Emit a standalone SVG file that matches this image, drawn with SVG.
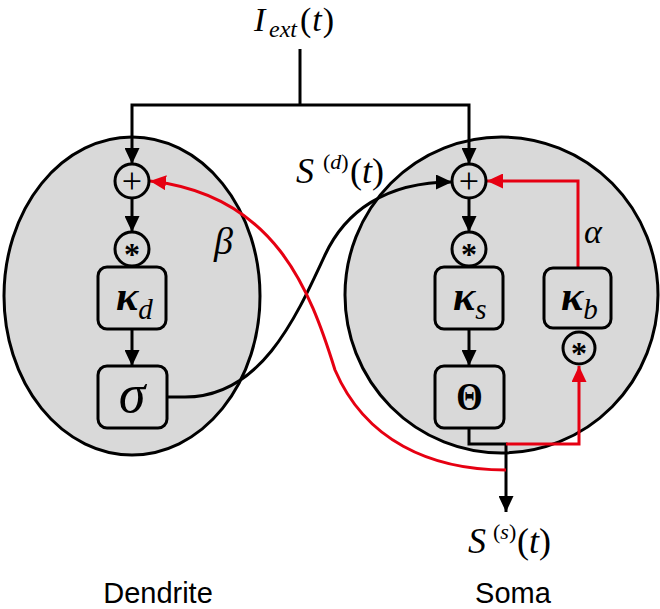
<svg xmlns="http://www.w3.org/2000/svg" width="660" height="609" viewBox="0 0 660 609">
<defs>
<style>
.ln{fill:none;stroke:#000;stroke-width:3;stroke-linejoin:miter}
.rd{fill:none;stroke:#e60012;stroke-width:3;stroke-linejoin:miter}
.cell{fill:#d9d9d9;stroke:#000;stroke-width:3}
.box{fill:#d9d9d9;stroke:#000;stroke-width:3}
.m{font-family:"Liberation Serif","Times New Roman",serif;fill:#000}
.it{font-style:italic}
.op{font-family:"Liberation Serif",serif;font-size:36px;text-anchor:middle}
.ast{font-family:"Liberation Serif",serif;font-size:32px;font-weight:bold;text-anchor:middle}
.kap{font-family:"Liberation Serif",serif;font-size:42px;font-style:italic;font-weight:bold}
.sub{font-family:"Liberation Serif",serif;font-size:29px;font-style:italic;font-weight:normal}
.lbl{font-family:"Liberation Sans",Arial,sans-serif;font-size:29px;text-anchor:middle;fill:#000}
</style>
<marker id="ab" markerUnits="userSpaceOnUse" viewBox="0 0 16 15" markerWidth="16" markerHeight="15" refX="16" refY="7.5" orient="auto"><path d="M0,0 L16,7.5 L0,15 Z" fill="#000"/></marker>
<marker id="ar" markerUnits="userSpaceOnUse" viewBox="0 0 16 15" markerWidth="16" markerHeight="15" refX="16" refY="7.5" orient="auto"><path d="M0,0 L16,7.5 L0,15 Z" fill="#e60012"/></marker>
</defs>

<g id="dendrite">
<ellipse class="cell" cx="132" cy="296" rx="128" ry="159"/>
<text class="lbl" x="158" y="603">Dendrite</text>
</g>
<g id="soma">
<ellipse class="cell" cx="501.5" cy="295" rx="156.5" ry="158"/>
<text class="lbl" x="513" y="603">Soma</text>
</g>

<g id="connectors">
<path class="ln" d="M300,49 V105"/>
<path class="ln" d="M300,105 H132 V164" marker-end="url(#ab)"/>
<path class="ln" d="M300,105 H469 V164" marker-end="url(#ab)"/>
<path class="ln" d="M132,198 V232" marker-end="url(#ab)"/>
<path class="ln" d="M132,329 V366" marker-end="url(#ab)"/>
<path class="ln" d="M469,198 V232" marker-end="url(#ab)"/>
<path class="ln" d="M469,329 V366" marker-end="url(#ab)"/>
<path class="ln" d="M167,397 H185 C260,397 295,320 325,255 C345,212 385,182 452,182" marker-end="url(#ab)"/>
<path class="ln" d="M469,428 V444 H506 V512" marker-end="url(#ab)"/>
<path class="rd" d="M506,444 H579 V366" marker-end="url(#ar)"/>
<path class="rd" d="M578,268 V181 H487" marker-end="url(#ar)"/>
<path class="rd" d="M506,470 C430,470 365,440 335,370 C310,290 275,195 150,181" marker-end="url(#ar)"/>
</g>

<g id="sum-d">
<circle class="box" cx="132" cy="181" r="17"/>
<text class="op m" x="132" y="193">+</text>
</g>
<g id="conv-d">
<circle class="box" cx="132" cy="249" r="17"/>
<text class="ast m" x="132" y="265">*</text>
</g>
<g id="kappa-d">
<rect class="box" x="98" y="267" width="68" height="62" rx="9"/>
<text class="kap" x="116" y="310">κ<tspan class="sub" dx="0" dy="9">d</tspan></text>
</g>
<g id="sigma">
<rect class="box" x="98" y="366" width="69" height="62" rx="9"/>
<text class="m it" x="132" y="412" font-size="54" text-anchor="middle">σ</text>
</g>
<text class="m it" x="214" y="254" font-size="38">β</text>

<g id="sum-s">
<circle class="box" cx="469" cy="181" r="17"/>
<text class="op m" x="469" y="193">+</text>
</g>
<g id="conv-s">
<circle class="box" cx="469" cy="249" r="17"/>
<text class="ast m" x="469" y="265">*</text>
</g>
<g id="kappa-s">
<rect class="box" x="435" y="267" width="68" height="62" rx="9"/>
<text class="kap" x="453" y="310">κ<tspan class="sub" dx="0" dy="9">s</tspan></text>
</g>
<g id="theta">
<rect class="box" x="435" y="366" width="69" height="62" rx="9"/>
<text class="m" transform="translate(469.5,410) scale(0.85,1)" x="0" y="0" font-size="40" font-weight="bold" text-anchor="middle">Θ</text>
</g>
<g id="kappa-b">
<rect class="box" x="544" y="268" width="67" height="60" rx="9"/>
<text class="kap" x="561" y="310">κ<tspan class="sub" dx="0" dy="9">b</tspan></text>
</g>
<g id="conv-b">
<circle class="box" cx="579" cy="348" r="16"/>
<text class="ast m" x="579" y="364">*</text>
</g>
<text class="m it" x="584" y="243" font-size="34">α</text>

<g id="labels">
<text class="m" y="31" font-size="34"><tspan class="it" x="254">I</tspan><tspan class="it" x="269" y="37" font-size="24">ext</tspan><tspan x="300" y="31" letter-spacing="1">(<tspan class="it">t</tspan>)</tspan></text>
<text class="m" y="183" font-size="36"><tspan class="it" x="296">S</tspan><tspan x="323" y="169" font-size="22">(<tspan class="it">d</tspan>)</tspan><tspan x="350" y="183">(<tspan class="it">t</tspan>)</tspan></text>
<text class="m" y="553" font-size="36"><tspan class="it" x="468">S</tspan><tspan x="493" y="539" font-size="22">(<tspan class="it">s</tspan>)</tspan><tspan x="517" y="553">(<tspan class="it">t</tspan>)</tspan></text>
</g>
</svg>
